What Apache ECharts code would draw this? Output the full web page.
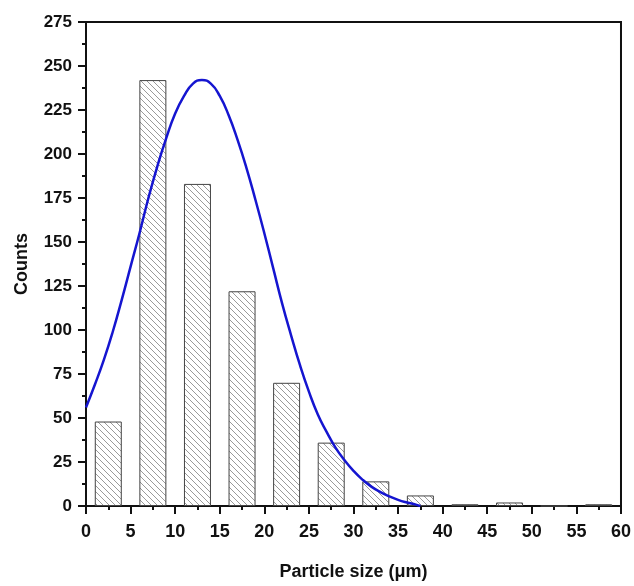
<!DOCTYPE html>
<html><head><meta charset="utf-8">
<script src="https://cdn.jsdelivr.net/npm/echarts@6/dist/echarts.min.js"></script>
<style>html,body{margin:0;padding:0;background:#fff}#c{width:634px;height:586px}</style>
</head><body><div id="c"></div>
<script>
// Histogram bins (centers, µm) and counts
const binCenters = [2.5, 7.5, 12.5, 17.5, 22.5, 27.5, 32.5, 37.5, 42.5, 47.5, 52.5, 57.5];
const binCounts  = [48, 242, 183, 122, 70, 36, 14, 6, 1, 2, 0, 1];
// Fitted curve
const fitX = [0, 1, 2, 3, 4, 5, 6, 7, 8, 9, 10, 11, 12, 13, 14, 15, 16, 17, 18, 19, 20, 21, 22, 23, 24, 25, 26, 27, 28, 29, 30, 31, 32, 33, 34, 35, 36, 37, 37.5];
const fitY = [56, 69, 83, 99, 117, 136, 155, 175, 193, 209, 223, 233, 240, 242, 240, 233, 222, 208, 192, 174, 155, 135, 115, 97, 80, 65, 52, 42, 33, 26, 20, 15, 11, 8, 5.5, 3.5, 2, 0.8, 0];

const pc = document.createElement('canvas');
pc.width = 6; pc.height = 6;
const g = pc.getContext('2d');
g.fillStyle = '#fff'; g.fillRect(0,0,6,6);
g.strokeStyle = '#9a9a9a'; g.lineWidth = 1;
g.beginPath();
g.moveTo(-1,-1); g.lineTo(7,7);
g.moveTo(-1,5); g.lineTo(1,7);
g.moveTo(5,-1); g.lineTo(7,1);
g.stroke();

const chart = echarts.init(document.getElementById('c'), null, {renderer:'canvas'});
const font = {fontFamily:'Liberation Sans, Arial, sans-serif', fontWeight:'bold', color:'#111'};
chart.setOption({
  animation:false,
  backgroundColor:'#fff',
  grid:{left:86, top:22, width:536, height:484, show:true, borderColor:'#111', borderWidth:2, backgroundColor:'transparent'},
  xAxis:{type:'value', min:0, max:60, interval:5,
    name:'Particle size (\u03bcm)', nameLocation:'middle', nameGap:57,
    nameTextStyle:Object.assign({fontSize:18}, font),
    axisLine:{show:true, onZero:false, lineStyle:{color:'#111', width:2}},
    axisTick:{show:true, inside:false, length:8, lineStyle:{color:'#111', width:2}},
    minorTick:{show:true, splitNumber:2, length:4, lineStyle:{color:'#111', width:2}},
    axisLabel:Object.assign({fontSize:18, margin:17}, font),
    splitLine:{show:false}},
  yAxis:{type:'value', min:0, max:275, interval:25,
    name:'Counts', nameLocation:'middle', nameGap:55,
    nameTextStyle:Object.assign({fontSize:18}, font),
    axisLine:{show:true, lineStyle:{color:'#111', width:2}},
    axisTick:{show:true, inside:false, length:8, lineStyle:{color:'#111', width:2}},
    minorTick:{show:true, splitNumber:2, length:4, lineStyle:{color:'#111', width:2}},
    axisLabel:Object.assign({fontSize:17, margin:14}, font),
    splitLine:{show:false}},
  series:[
    {type:'bar', data:binCenters.map((c,i)=>[c, binCounts[i]]), barWidth:27,
      itemStyle:{color:{image:pc, repeat:'repeat'}, borderColor:'#444', borderWidth:1}, z:2},
    {type:'line', data:fitX.map((x,i)=>[x, fitY[i]]), smooth:true, showSymbol:false,
      lineStyle:{color:'#1515d0', width:2.5}, z:3}
  ]
});
</script></body></html>
